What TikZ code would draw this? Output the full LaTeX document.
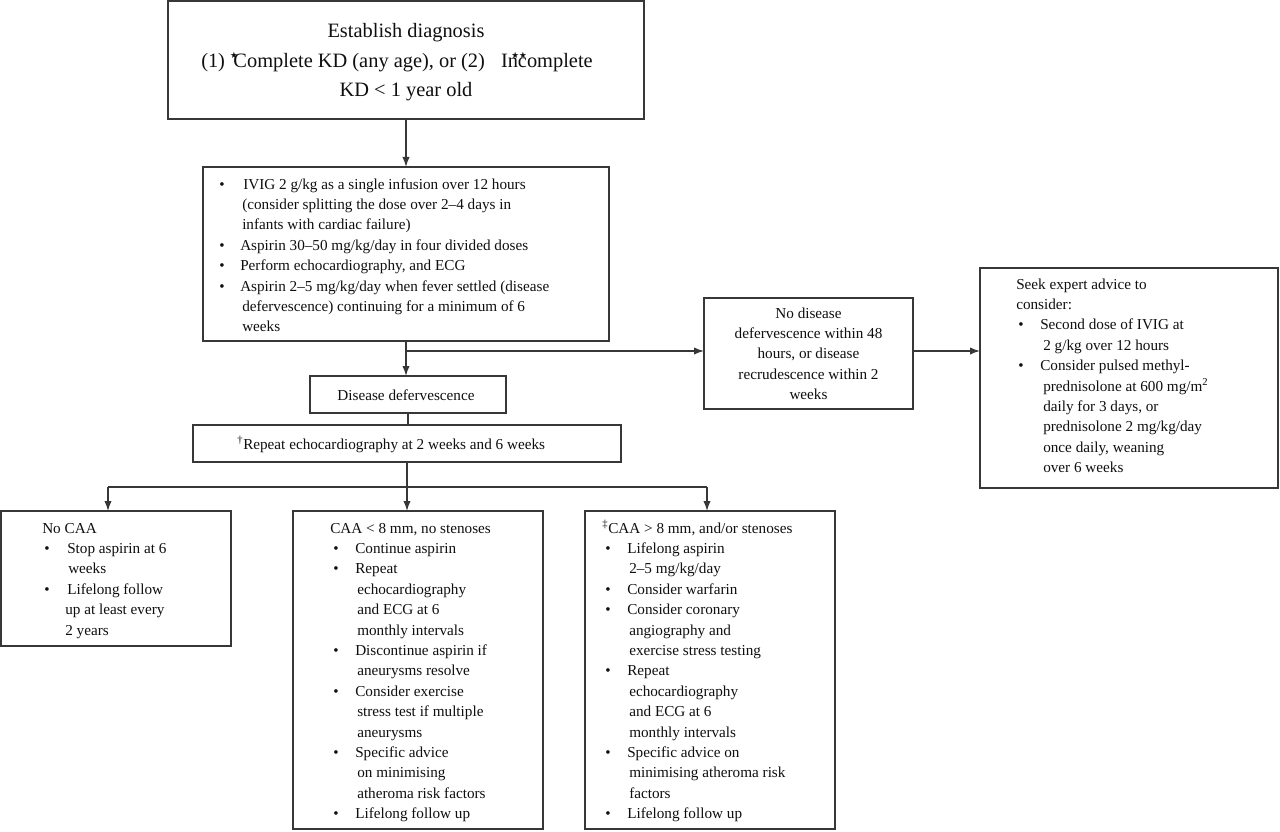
\documentclass[tikz,border=0pt]{standalone}
\usepackage{fontspec}
\setmainfont{Liberation Serif}
\newfontfamily\starfont{DejaVu Sans}
\usetikzlibrary{arrows.meta}
\definecolor{linegray}{RGB}{55,55,55}
\definecolor{txtcol}{RGB}{15,15,15}
\newcommand\fs{\fontsize{11.4}{15.3}\selectfont}
\newcommand\bul[2]{\hspace*{#1}\makebox[#2][l]{\textbullet}}
\newcommand\cont[1]{\hspace*{#1}}
\newcommand\kdstar[1]{\raisebox{7pt}{\starfont\fontsize{6.5}{6.5}\selectfont #1}}
\begin{document}
\begin{tikzpicture}[x=0.75pt,y=-0.75pt,
  box/.style={draw=linegray, line width=1pt, inner sep=0pt, outer sep=0pt, anchor=north west},
  txt/.style={inner sep=0pt, anchor=base west, text=txtcol},
  ctxt/.style={inner sep=0pt, anchor=base, text=txtcol},
  arr/.style={draw=linegray, line width=1pt, -{Latex[length=7.5pt,width=5.5pt]}},
  ln/.style={draw=linegray, line width=1pt}]
\useasboundingbox (0,0) rectangle (1280,831);
\fill[white] (0,0) rectangle (1280,831);

% boxes
\node[box, minimum width=357pt, minimum height=88.5pt] (diag) at (168,1) {};
\node[box, minimum width=304.5pt, minimum height=130.5pt] (ivig) at (203,167) {};
\node[box, minimum width=147pt, minimum height=27.75pt] (defer) at (310,376) {};
\node[box, minimum width=321pt, minimum height=27.75pt] (rep) at (193,425) {};
\node[box, minimum width=156.75pt, minimum height=83.25pt] (nodis) at (704,298) {};
\node[box, minimum width=223.5pt, minimum height=165pt] (seek) at (980,268) {};
\node[box, minimum width=172.5pt, minimum height=101.25pt] (nocaa) at (1,511) {};
\node[box, minimum width=187.5pt, minimum height=238.5pt] (caa8) at (293,511) {};
\node[box, minimum width=187.5pt, minimum height=238.5pt] (caag) at (585,511) {};

% texts
\node[ctxt] (diagtxt) at (406,38) {\fontsize{15.3}{22.1}\selectfont
\begin{tabular}[t]{@{}c@{}}
Establish diagnosis\\
(1) \makebox[2.5pt][l]{\kdstar{★}}Complete KD (any age), or (2)\hspace{12pt}In\makebox[0pt][l]{\hspace{-5pt}\kdstar{★★}}complete\hspace*{13.5pt}\\
KD < 1 year old
\end{tabular}};

\node[txt] (iviegtxt) at (219,189) {\fs
\begin{tabular}[t]{@{}l@{}}
\bul{0pt}{18pt}IVIG 2 g/kg as a single infusion over 12 hours\\
\cont{17.25pt}(consider splitting the dose over 2–4 days in\\
\cont{17.25pt}infants with cardiac failure)\\
\bul{0pt}{15.75pt}Aspirin 30–50 mg/kg/day in four divided doses\\
\bul{0pt}{15.75pt}Perform echocardiography, and ECG\\
\bul{0pt}{15.75pt}Aspirin 2–5 mg/kg/day when fever settled (disease\\
\cont{17.25pt}defervescence) continuing for a minimum of 6\\
\cont{17.25pt}weeks
\end{tabular}};

\node[ctxt] (defertxt) at (406,400) {\fs Disease defervescence};
\node[txt] (reptxt) at (237,449) {\fs\textsuperscript{†}Repeat echocardiography at 2 weeks and 6 weeks};

\node[ctxt] (nodistxt) at (808.5,318) {\fs
\begin{tabular}[t]{@{}c@{}}
No disease\\
defervescence within 48\\
hours, or disease\\
recrudescence within 2\\
weeks
\end{tabular}};

\node[txt] (seektxt) at (1016,289) {\fs
\begin{tabular}[t]{@{}l@{}}
Seek expert advice to\\
consider:\\
\bul{1.5pt}{16.5pt}Second dose of IVIG at\\
\cont{20.25pt}2 g/kg over 12 hours\\
\bul{1.5pt}{16.5pt}Consider pulsed methyl-\\
\cont{20.25pt}prednisolone at 600 mg/m\textsuperscript{2}\\
\cont{20.25pt}daily for 3 days, or\\
\cont{20.25pt}prednisolone 2 mg/kg/day\\
\cont{20.25pt}once daily, weaning\\
\cont{20.25pt}over 6 weeks
\end{tabular}};

\node[txt] (nocaatxt) at (42,533) {\fs
\begin{tabular}[t]{@{}l@{}}
No CAA\\
\bul{1.5pt}{17.25pt}Stop aspirin at 6\\
\cont{19.5pt}weeks\\
\bul{1.5pt}{17.25pt}Lifelong follow\\
\cont{17.25pt}up at least every\\
\cont{17.25pt}2 years
\end{tabular}};

\node[txt] (caa8txt) at (330,533) {\fs
\begin{tabular}[t]{@{}l@{}}
CAA < 8 mm, no stenoses\\
\bul{2.25pt}{16.5pt}Continue aspirin\\
\bul{2.25pt}{16.5pt}Repeat\\
\cont{20.25pt}echocardiography\\
\cont{20.25pt}and ECG at 6\\
\cont{20.25pt}monthly intervals\\
\bul{2.25pt}{16.5pt}Discontinue aspirin if\\
\cont{20.25pt}aneurysms resolve\\
\bul{2.25pt}{16.5pt}Consider exercise\\
\cont{20.25pt}stress test if multiple\\
\cont{20.25pt}aneurysms\\
\bul{2.25pt}{16.5pt}Specific advice\\
\cont{20.25pt}on minimising\\
\cont{20.25pt}atheroma risk factors\\
\bul{2.25pt}{16.5pt}Lifelong follow up
\end{tabular}};

\node[txt] (caagtxt) at (602,533) {\fs
\begin{tabular}[t]{@{}l@{}}
\textsuperscript{‡}CAA > 8 mm, and/or stenoses\\
\bul{2.25pt}{16.5pt}Lifelong aspirin\\
\cont{20.25pt}2–5 mg/kg/day\\
\bul{2.25pt}{16.5pt}Consider warfarin\\
\bul{2.25pt}{16.5pt}Consider coronary\\
\cont{20.25pt}angiography and\\
\cont{20.25pt}exercise stress testing\\
\bul{2.25pt}{16.5pt}Repeat\\
\cont{20.25pt}echocardiography\\
\cont{20.25pt}and ECG at 6\\
\cont{20.25pt}monthly intervals\\
\bul{2.25pt}{16.5pt}Specific advice on\\
\cont{20.25pt}minimising atheroma risk\\
\cont{20.25pt}factors\\
\bul{2.25pt}{16.5pt}Lifelong follow up
\end{tabular}};

% connectors
\draw[arr] (diag.south) -- (ivig.north);
\path (ivig.south) ++(0,10) coordinate (j1);
\draw[ln] (ivig.south) -- (j1);
\draw[arr] (j1) -- (j1 |- defer.north);
\draw[arr] (j1) -- (j1 -| nodis.west);
\draw[arr] (nodis.east |- j1) -- (seek.west |- j1);
\draw[ln] (defer.south) -- (defer.south |- rep.north);
\path (rep.south) ++(0,25) coordinate (j2);
\path (j2) ++(-299,0) coordinate (jl);
\path (j2) ++(300,0) coordinate (jr);
\draw[ln] (rep.south) -- (j2);
\draw[ln] (jl) -- (jr);
\draw[arr] (jl) -- (jl |- nocaa.north);
\draw[arr] (j2) -- (j2 |- caa8.north);
\draw[arr] (jr) -- (jr |- caag.north);
\end{tikzpicture}
\end{document}
